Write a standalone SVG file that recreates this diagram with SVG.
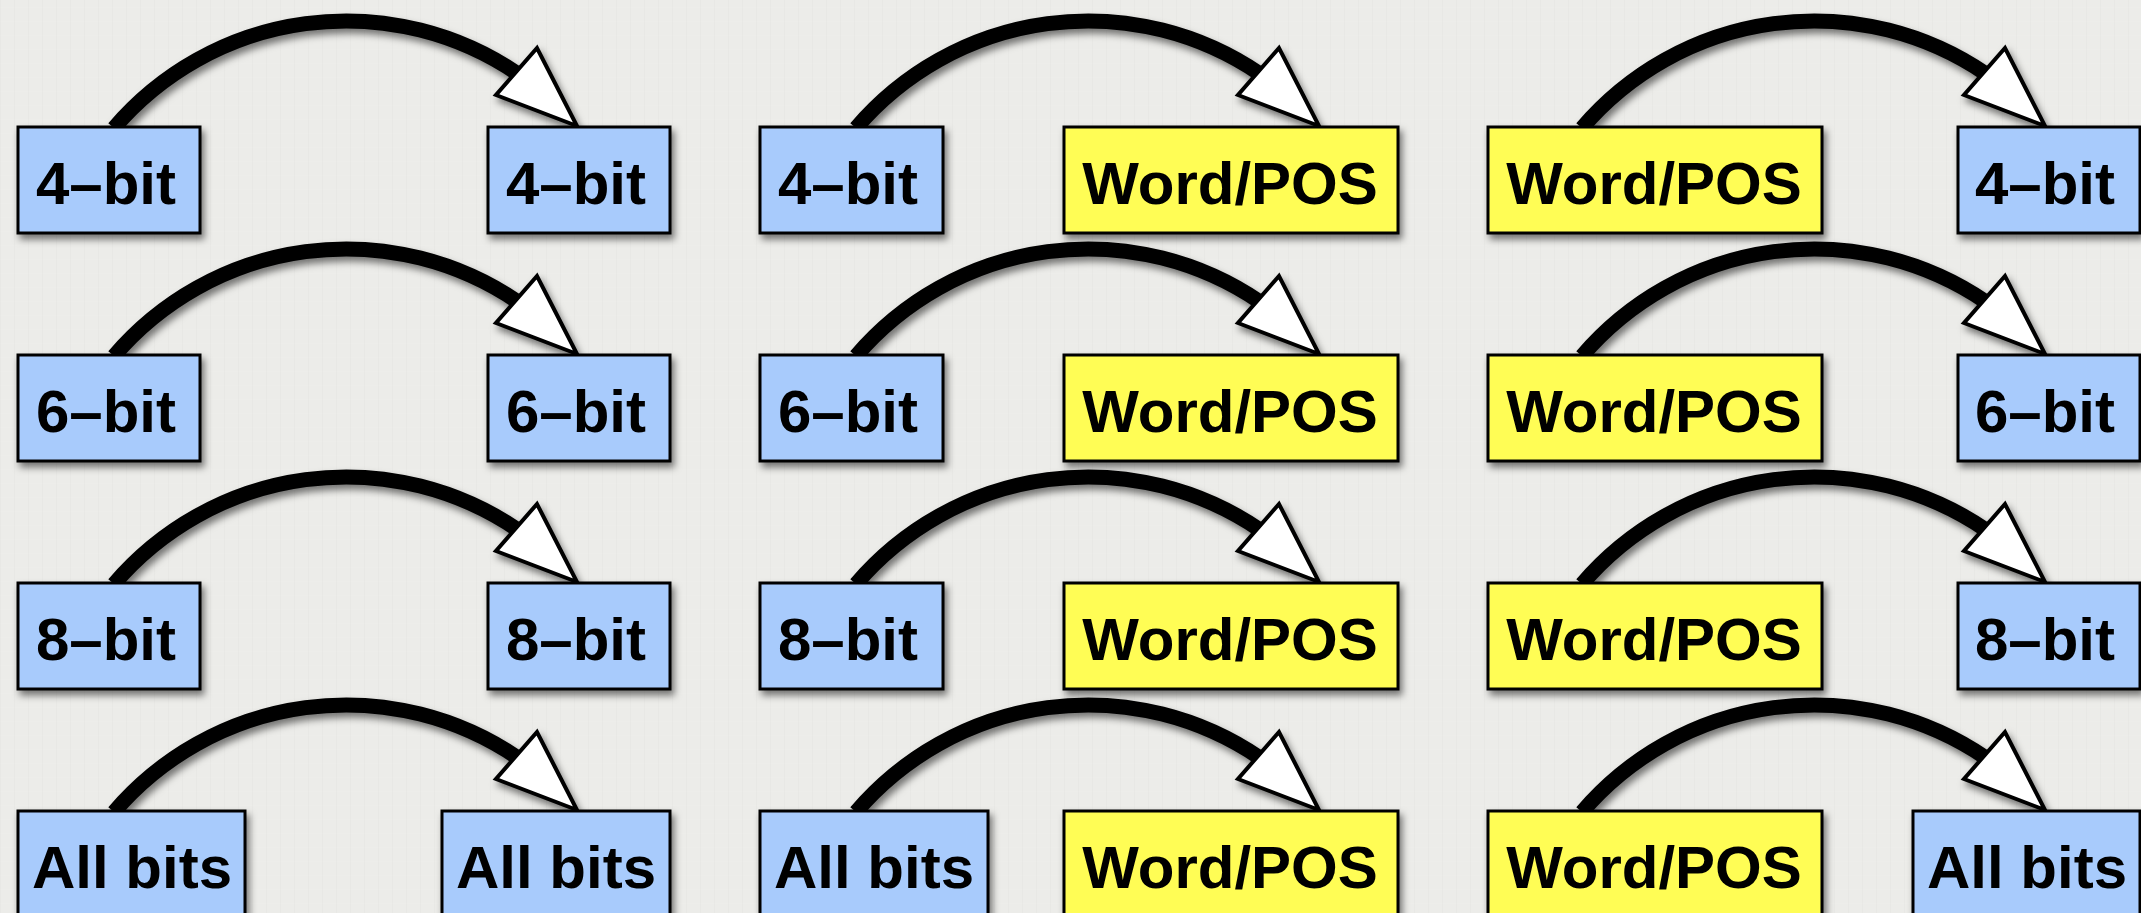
<svg xmlns="http://www.w3.org/2000/svg" xmlns:xlink="http://www.w3.org/1999/xlink" width="2141" height="913" viewBox="0 0 2141 913">
  <defs>
    <style>
      .bg { fill: #ecece9; }
      .blue { fill: #a8cbfc; stroke: #000; stroke-width: 3; }
      .yellow { fill: #fffd55; stroke: #000; stroke-width: 3; }
      .lbl { font-family: "Liberation Sans", Arial, Helvetica, sans-serif; font-weight: bold; font-size: 60px; fill: #000; text-anchor: middle; }
      .arc { fill: none; stroke: #000; stroke-width: 15; stroke-linecap: butt; }
      .head { fill: #fff; stroke: #000; stroke-width: 4; stroke-linejoin: miter; }
    </style>
    <filter id="shadow" x="-10%" y="-10%" width="130%" height="140%">
      <feDropShadow dx="3" dy="5" stdDeviation="3.5" flood-color="#000" flood-opacity="0.5"/>
    </filter>
    <pattern id="grain" width="14" height="14" patternUnits="userSpaceOnUse">
      <rect width="14" height="14" fill="#ecece9"/>
      <rect x="0" y="0" width="1" height="14" fill="#000" opacity="0.015"/>
      <rect x="0" y="7" width="14" height="1" fill="#fff" opacity="0.05"/>
    </pattern>
    <!-- curved connector: arc rising from its source, white arrowhead landing on the target -->
    <g id="arcArrow">
      <path class="arc" d="M0,0 A305,305 0 0 1 404,-54"/>
      <polygon class="head" points="463,-2 382,-33 423,-80"/>
    </g>
  </defs>

  <rect class="bg" width="2141" height="913"/>
  <rect width="2141" height="913" fill="url(#grain)"/>

  <!-- connectors -->
  <g id="connectors" filter="url(#shadow)">
    <use xlink:href="#arcArrow" transform="translate(114,128)"/>
    <use xlink:href="#arcArrow" transform="translate(856,128)"/>
    <use xlink:href="#arcArrow" transform="translate(1582,128)"/>
    <use xlink:href="#arcArrow" transform="translate(114,356)"/>
    <use xlink:href="#arcArrow" transform="translate(856,356)"/>
    <use xlink:href="#arcArrow" transform="translate(1582,356)"/>
    <use xlink:href="#arcArrow" transform="translate(114,584)"/>
    <use xlink:href="#arcArrow" transform="translate(856,584)"/>
    <use xlink:href="#arcArrow" transform="translate(1582,584)"/>
    <use xlink:href="#arcArrow" transform="translate(114,812)"/>
    <use xlink:href="#arcArrow" transform="translate(856,812)"/>
    <use xlink:href="#arcArrow" transform="translate(1582,812)"/>
  </g>

  <!-- nodes -->
  <g id="nodes" filter="url(#shadow)">
    <!-- row 1 -->
    <g id="r1-a"><rect class="blue" x="18" y="127" width="182" height="106"/><text class="lbl" x="106" y="204">4–bit</text></g>
    <g id="r1-b"><rect class="blue" x="488" y="127" width="182" height="106"/><text class="lbl" x="576" y="204">4–bit</text></g>
    <g id="r1-c"><rect class="blue" x="760" y="127" width="183" height="106"/><text class="lbl" x="848" y="204">4–bit</text></g>
    <g id="r1-d"><rect class="yellow" x="1064" y="127" width="334" height="106"/><text class="lbl" x="1230" y="204">Word/POS</text></g>
    <g id="r1-e"><rect class="yellow" x="1488" y="127" width="334" height="106"/><text class="lbl" x="1654" y="204">Word/POS</text></g>
    <g id="r1-f"><rect class="blue" x="1958" y="127" width="182" height="106"/><text class="lbl" x="2045" y="204">4–bit</text></g>

    <!-- row 2 -->
    <g id="r2-a"><rect class="blue" x="18" y="355" width="182" height="106"/><text class="lbl" x="106" y="432">6–bit</text></g>
    <g id="r2-b"><rect class="blue" x="488" y="355" width="182" height="106"/><text class="lbl" x="576" y="432">6–bit</text></g>
    <g id="r2-c"><rect class="blue" x="760" y="355" width="183" height="106"/><text class="lbl" x="848" y="432">6–bit</text></g>
    <g id="r2-d"><rect class="yellow" x="1064" y="355" width="334" height="106"/><text class="lbl" x="1230" y="432">Word/POS</text></g>
    <g id="r2-e"><rect class="yellow" x="1488" y="355" width="334" height="106"/><text class="lbl" x="1654" y="432">Word/POS</text></g>
    <g id="r2-f"><rect class="blue" x="1958" y="355" width="182" height="106"/><text class="lbl" x="2045" y="432">6–bit</text></g>

    <!-- row 3 -->
    <g id="r3-a"><rect class="blue" x="18" y="583" width="182" height="106"/><text class="lbl" x="106" y="660">8–bit</text></g>
    <g id="r3-b"><rect class="blue" x="488" y="583" width="182" height="106"/><text class="lbl" x="576" y="660">8–bit</text></g>
    <g id="r3-c"><rect class="blue" x="760" y="583" width="183" height="106"/><text class="lbl" x="848" y="660">8–bit</text></g>
    <g id="r3-d"><rect class="yellow" x="1064" y="583" width="334" height="106"/><text class="lbl" x="1230" y="660">Word/POS</text></g>
    <g id="r3-e"><rect class="yellow" x="1488" y="583" width="334" height="106"/><text class="lbl" x="1654" y="660">Word/POS</text></g>
    <g id="r3-f"><rect class="blue" x="1958" y="583" width="182" height="106"/><text class="lbl" x="2045" y="660">8–bit</text></g>

    <!-- row 4 -->
    <g id="r4-a"><rect class="blue" x="18" y="811" width="227" height="106"/><text class="lbl" x="132" y="888">All bits</text></g>
    <g id="r4-b"><rect class="blue" x="442" y="811" width="228" height="106"/><text class="lbl" x="556" y="888">All bits</text></g>
    <g id="r4-c"><rect class="blue" x="760" y="811" width="228" height="106"/><text class="lbl" x="874" y="888">All bits</text></g>
    <g id="r4-d"><rect class="yellow" x="1064" y="811" width="334" height="106"/><text class="lbl" x="1230" y="888">Word/POS</text></g>
    <g id="r4-e"><rect class="yellow" x="1488" y="811" width="334" height="106"/><text class="lbl" x="1654" y="888">Word/POS</text></g>
    <g id="r4-f"><rect class="blue" x="1913" y="811" width="227" height="106"/><text class="lbl" x="2027" y="888">All bits</text></g>
  </g>
</svg>
